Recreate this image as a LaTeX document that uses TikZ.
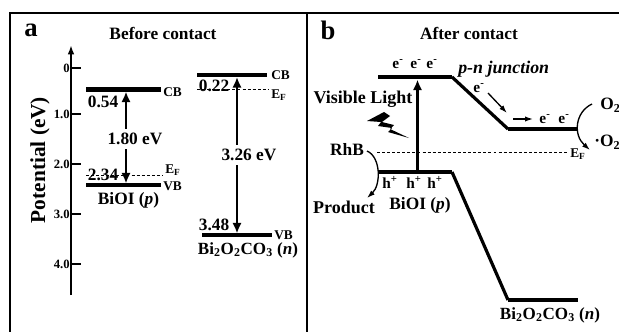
\documentclass[tikz,border=0pt]{standalone}
\usepackage{fontspec}
\setmainfont{Liberation Serif}
\usetikzlibrary{arrows.meta}
\tikzset{
 x=0.75pt,y=-0.75pt,
 frameline/.style={line width=2.1pt,black},
 level/.style={line width=3.5pt,black},
 slope/.style={line width=2.4pt,black},
 axisline/.style={line width=1.5pt,black},
 vert/.style={line width=2.2pt,black},
 tip/.style={-{Latex[length=8pt,width=7pt]}},
 thinarrow/.style={line width=1pt,-{Latex[length=6pt,width=4pt]}},
 fermi/.style={line width=0.5pt,dash pattern=on 2.2pt off 1.6pt},
 txt/.style={font=\bfseries\fontsize{#1}{#1}\selectfont,inner sep=0pt,text=black},
 txt/.default=13pt,
}
\begin{document}
\begin{tikzpicture}
\useasboundingbox (0,0) rectangle (619,332);
\fill[white] (0,0) rectangle (619,332);
% frame
\coordinate (fa) at (10,332); \coordinate (fb) at (10,13); \coordinate (fc) at (619,13);
\coordinate (da) at (307,13); \coordinate (db) at (307,332);
\draw[frameline] (fa) -- (fb) -- (fc);
\draw[frameline] (da) -- (db);
% panel a
\node[txt=20pt] (la) at (31,30) {a};
\node[txt=13pt] (ta) at (163,33) {Before contact};
\node[txt=16pt,rotate=90] (pot) at (40,160) {Potential (eV)};
\coordinate (axb) at (71,295); \coordinate (axt) at (71,45);
\draw[axisline,-{Latex[length=7pt,width=5pt]}] (axb) -- (axt);
\foreach \n/\lab/\yy in {t0/0/68,t1/1.0/114,t2/2.0/164,t3/3.0/214,t4/4.0/264}{
  \coordinate (\n a) at (71,\yy); \coordinate (\n b) at (81,\yy);
  \draw[line width=1.8pt] (\n a) -- (\n b);
  \node[txt=9.5pt,anchor=east] (\n l) at (70,\yy) {\lab};
}
\coordinate (c1a) at (86,89.5); \coordinate (c1b) at (161,89.5);
\coordinate (v1a) at (86,185); \coordinate (v1b) at (161,185);
\draw[level] (c1a) -- (c1b); \draw[level] (v1a) -- (v1b);
\node[txt=10pt,anchor=west] (cb1) at (163,92) {CB};
\node[txt=10pt,anchor=west] (vb1) at (163,186) {VB};
\node[txt=13pt] (n054) at (103,102) {0.54};
\node[txt=13pt,inner ysep=3pt] (gap1) at (135,139) {1.80 eV};
\node[txt=13pt] (n234) at (103,175) {2.34};
\coordinate (a1t) at (126,91.5); \coordinate (a1b) at (126,183.5);
\draw[vert,tip] (gap1.north -| a1t) -- (a1t);
\draw[vert,tip] (gap1.south -| a1t) -- (a1b);
\coordinate (e1a) at (86,175); \coordinate (e1b) at (163,175);
\draw[fermi] (e1a) -- (e1b);
\node[txt=10pt,anchor=west] (ef1) at (165,170) {E\textsubscript{F}};
\node[txt=13pt] (nb1) at (128.5,200) {BiOI (\textit{p})};
% right part of panel a
\coordinate (c2a) at (197,75); \coordinate (c2b) at (267,75);
\coordinate (v2a) at (202,235); \coordinate (v2b) at (272,235);
\draw[level] (c2a) -- (c2b); \draw[level] (v2a) -- (v2b);
\node[txt=10pt,anchor=west] (cb2) at (271,75) {CB};
\node[txt=10pt,anchor=west] (vb2) at (274,235) {VB};
\node[txt=13pt] (n022) at (214,86) {0.22};
\node[txt=13pt] (n348) at (214,225) {3.48};
\node[txt=13pt,inner ysep=3pt] (gap2) at (249,155) {3.26 eV};
\coordinate (a2t) at (237,77); \coordinate (a2b) at (237,233.5);
\draw[vert,tip] (gap2.north -| a2t) -- (a2t);
\draw[vert,tip] (gap2.south -| a2t) -- (a2b);
\coordinate (e2a) at (197,89); \coordinate (e2b) at (268,89);
\draw[fermi] (e2a) -- (e2b);
\node[txt=10pt,anchor=west] (ef2) at (271,95) {E\textsubscript{F}};
\node[txt=12.8pt] (nb2) at (248,250) {Bi\textsubscript{2}O\textsubscript{2}CO\textsubscript{3} (\textit{n})};
% panel b
\node[txt=20pt] (lb) at (328,30) {b};
\node[txt=13pt] (tb) at (469,33) {After contact};
\coordinate (p1a) at (378,77); \coordinate (p1b) at (452,77);
\coordinate (p2a) at (378,172); \coordinate (p2b) at (452,172);
\coordinate (n1a) at (508,129); \coordinate (n1b) at (578,129);
\coordinate (n2a) at (508,300); \coordinate (n2b) at (578,300);
\draw[level] (p1a) -- (p1b); \draw[level] (p2a) -- (p2b);
\draw[level] (n1a) -- (n1b); \draw[level] (n2a) -- (n2b);
\draw[slope] (p1b) -- (n1a); \draw[slope] (p2b) -- (n2a);
\coordinate (a3b) at (417.5,171); \coordinate (a3t) at (417.5,79.5);
\draw[vert,tip] (a3b) -- (a3t);
\coordinate (e3a) at (377,152.5); \coordinate (e3b) at (568,152.5);
\draw[fermi] (e3a) -- (e3b);
\node[txt=10pt,anchor=west] (ef3) at (570,154) {E\textsubscript{F}};
\node[txt=13pt] (rhb) at (347,150) {RhB};
\node[txt=13.5pt] (prod) at (344,207) {Product};
\node[txt=13pt] (nb3) at (420,205) {BiOI (\textit{p})};
\node[txt=12.8pt] (nb4) at (550,315) {Bi\textsubscript{2}O\textsubscript{2}CO\textsubscript{3} (\textit{n})};
\node[txt=13.5pt] (vis) at (363,99) {Visible Light};
\node[txt=13.4pt,anchor=west] (pn) at (458,69.5) {\textit{p-n junction}};
\foreach \n/\xx in {u1/398,u2/416,u3/432}{\node[txt=11.5pt] (\n) at (\xx,64) {e\textsuperscript{-}};}
\foreach \n/\xx in {h1/390,h2/414,h3/435}{\node[txt=11.5pt] (\n) at (\xx,182.5) {h\textsuperscript{+}};}
\node[txt=11.5pt] (em) at (479,88) {e\textsuperscript{-}};
\node[txt=11.5pt] (e4) at (545,119) {e\textsuperscript{-}};
\node[txt=11.5pt] (e5) at (564,119) {e\textsuperscript{-}};
\coordinate (m1a) at (488,93); \coordinate (m1b) at (507,113);
\coordinate (m2a) at (513,119); \coordinate (m2b) at (533,119);
\draw[thinarrow] (m1a) -- (m1b); \draw[thinarrow] (m2a) -- (m2b);
\node[txt=13pt,anchor=west] (o2) at (600,105) {O\textsubscript{2}};
\node[txt=13pt,anchor=west] (ro) at (594,142) {·O\textsubscript{2}};
\coordinate (ca) at (592,104); \coordinate (cb) at (590,150);
\draw[thinarrow] (ca) .. controls (575,112) and (573,135) .. (cb);
\coordinate (cc) at (367,151); \coordinate (cd) at (367,198);
\draw[thinarrow] (cc) .. controls (381,157) and (381,185) .. (cd);
% lightning
\fill[black] (367,121) -- (384,112) -- (390,116) -- (382,122) -- (394,125) -- (390,129) -- (409,138) -- (388,132) -- (392,128) -- (378,126) -- (381,122) -- cycle;
\end{tikzpicture}
\end{document}
